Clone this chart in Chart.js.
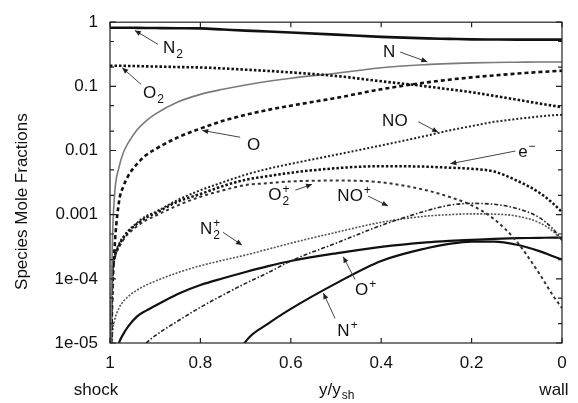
<!DOCTYPE html>
<html><head><meta charset="utf-8">
<script src="https://cdn.jsdelivr.net/npm/chart.js@4/dist/chart.umd.min.js"></script>
<style>html,body{margin:0;padding:0;background:#fff}</style>
</head><body>
<canvas id="c" width="578" height="403"></canvas>
<script>
// ---- data ----
const X = [1, 0.995, 0.99, 0.98, 0.97, 0.96, 0.94, 0.92, 0.9, 0.85, 0.8, 0.75, 0.7, 0.65, 0.6, 0.5, 0.4, 0.3, 0.25, 0.2, 0.15, 0.1, 0.05, 0.02, 0];
const N2  = [0.82, 0.82, 0.82, 0.82, 0.82, 0.82, 0.815, 0.812, 0.81, 0.805, 0.80, 0.77, 0.74, 0.715, 0.69, 0.64, 0.59, 0.56, 0.55, 0.54, 0.537, 0.535, 0.535, 0.535, 0.535];
const O2  = [0.21, 0.21, 0.21, 0.21, 0.209, 0.208, 0.207, 0.205, 0.204, 0.2, 0.197, 0.19, 0.182, 0.174, 0.165, 0.145, 0.12, 0.1, 0.09, 0.081, 0.071, 0.062, 0.054, 0.05, 0.047];
const N   = [1e-6, 3e-4, 0.002, 0.0055, 0.0095, 0.013, 0.021, 0.029, 0.037, 0.057, 0.075, 0.09, 0.105, 0.12, 0.134, 0.16, 0.195, 0.218, 0.226, 0.232, 0.236, 0.238, 0.24, 0.24, 0.24];
const O   = [1e-6, 5e-5, 3e-4, 0.0016, 0.0028, 0.004, 0.0062, 0.0085, 0.0105, 0.016, 0.022, 0.029, 0.036, 0.043, 0.05, 0.066, 0.09, 0.115, 0.127, 0.138, 0.148, 0.158, 0.167, 0.172, 0.175];
const NO  = [1e-6, 1e-4, 2.2e-4, 3.5e-4, 4.6e-4, 5.6e-4, 7.5e-4, 9.5e-4, 0.0011, 0.0017, 0.0024, 0.0032, 0.0042, 0.0052, 0.0062, 0.0086, 0.012, 0.017, 0.0205, 0.024, 0.028, 0.031, 0.034, 0.0355, 0.036];
const EM  = [1e-6, 1e-4, 2.1e-4, 3.3e-4, 4.4e-4, 5.4e-4, 7.2e-4, 9e-4, 0.00105, 0.0016, 0.0021, 0.0028, 0.0035, 0.004, 0.0045, 0.0053, 0.0057, 0.0056, 0.0054, 0.0052, 0.0047, 0.0034, 0.0022, 0.0015, 0.0011];
const O2P = [1e-6, 9e-5, 2e-4, 3.1e-4, 4.1e-4, 5e-4, 6.6e-4, 8.2e-4, 9.6e-4, 0.0014, 0.0019, 0.0024, 0.0029, 0.0031, 0.0033, 0.0034, 0.0032, 0.0024, 0.0019, 0.0014, 0.00085, 0.00038, 0.00012, 5.5e-5, 3.5e-5];
const N2P = [1e-6, 1.2e-5, 2.2e-5, 3.5e-5, 4.5e-5, 5.3e-5, 6.7e-5, 8e-5, 9.2e-5, 1.25e-4, 1.6e-4, 1.95e-4, 2.35e-4, 2.9e-4, 3.6e-4, 5.3e-4, 7.6e-4, 9.5e-4, 1.0e-3, 1.03e-3, 1.02e-3, 9.5e-4, 7.5e-4, 5.5e-4, 4e-4];
const NOP = [1e-8, 1e-7, 3e-7, 1e-6, 2e-6, 3e-6, 7e-6, 1e-5, 1.3e-5, 2.2e-5, 3.6e-5, 5.6e-5, 8.5e-5, 1.25e-4, 1.9e-4, 3.6e-4, 6.8e-4, 1.15e-3, 1.4e-3, 1.5e-3, 1.45e-3, 1.25e-3, 9e-4, 6e-4, 4e-4];
const OP  = [1e-8, 1e-6, 5e-6, 1e-5, 1.4e-5, 1.8e-5, 2.6e-5, 3.2e-5, 3.8e-5, 5.8e-5, 8e-5, 1.02e-4, 1.28e-4, 1.58e-4, 1.9e-4, 2.5e-4, 3.15e-4, 3.7e-4, 3.9e-4, 4.05e-4, 4.2e-4, 4.3e-4, 4.35e-4, 4.4e-4, 4.4e-4];
const NP  = [1e-9, 1e-9, 1e-9, 1e-9, 1e-9, 1e-9, 1e-9, 1e-9, 1e-9, 1e-8, 3e-7, 2e-6, 1.05e-5, 2e-5, 3.4e-5, 8.5e-5, 1.9e-4, 3e-4, 3.5e-4, 3.8e-4, 3.8e-4, 3.4e-4, 2.7e-4, 2.25e-4, 2e-4];

const X_TICKS = [1, 0.8, 0.6, 0.4, 0.2, 0];
const X_LABELS = ['1', '0.8', '0.6', '0.4', '0.2', '0'];
const Y_TICKS = [1e-5, 1e-4, 1e-3, 1e-2, 1e-1, 1];
const Y_LABELS = ['1e-05', '1e-04', '0.001', '0.01', '0.1', '1'];

// annotation labels: text parts, text anchor (data coords), arrow start and tip (data coords)
const LABELS = [
  {parts:[['N'],['', null, '2']], at:[0.883, 0.330], from:[0.894, 0.453], to:[0.945, 0.742]},
  {parts:[['O'],['', null, '2']], at:[0.927, 0.0656], from:[0.931, 0.107], to:[0.973, 0.195]},
  {parts:[['O']], at:[0.697, 0.0102], from:[0.712, 0.0161], to:[0.796, 0.0206]},
  {parts:[['N']], at:[0.396, 0.287], from:[0.358, 0.342], to:[0.298, 0.241]},
  {parts:[['NO']], at:[0.398, 0.0245], from:[0.318, 0.0282], to:[0.274, 0.0192]},
  {parts:[['e'],['', '\u2212', null]], at:[0.097, 0.00796], from:[0.103, 0.00982], to:[0.247, 0.00622]},
  {parts:[['O'],['', '+', '2']], at:[0.650, 0.00169], from:[0.590, 0.00241], to:[0.553, 0.00297]},
  {parts:[['NO'],['', '+', null]], at:[0.497, 0.00164], from:[0.429, 0.00195], to:[0.385, 0.00137]},
  {parts:[['N'],['', '+', '2']], at:[0.801, 4.95e-4], from:[0.750, 5.31e-4], to:[0.708, 3.36e-4]},
  {parts:[['O'],['', '+', null]], at:[0.458, 5.6e-5], from:[0.458, 9.8e-5], to:[0.484, 2.21e-4]},
  {parts:[['N'],['', '+', null]], at:[0.497, 1.28e-5], from:[0.502, 2.41e-5], to:[0.528, 6.0e-5]}
];

const FONT = '"Liberation Sans", Arial, Helvetica, sans-serif';
const pts = arr => X.map((x, i) => ({x: x, y: arr[i]}));

function ds(label, arr, color, width, dash) {
  return {label, data: pts(arr), borderColor: color, borderWidth: width, borderDash: dash || [],
    pointRadius: 0, fill: false, cubicInterpolationMode: 'monotone', borderCapStyle: 'butt'};
}

function richText(ctx, parts, x, y, size) {
  let cx = x;
  for (const p of parts) {
    const [main, sup, sub] = p;
    ctx.font = size + 'px ' + FONT;
    if (main) { ctx.fillText(main, cx, y); cx += ctx.measureText(main).width; }
    const small = Math.round(size * 0.7);
    ctx.font = small + 'px ' + FONT;
    let w = 0;
    if (sup) { ctx.fillText(sup, cx + 1, y - size * 0.42); w = Math.max(w, ctx.measureText(sup).width + 1); }
    if (sub) { ctx.fillText(sub, cx + 1, y + size * 0.28); w = Math.max(w, ctx.measureText(sub).width + 1); }
    cx += w;
  }
}

const decor = {
  id: 'decor',
  afterDatasetsDraw(chart) {
    const ctx = chart.ctx, a = chart.chartArea, xs = chart.scales.x, ys = chart.scales.y;
    ctx.save();
    ctx.strokeStyle = '#222'; ctx.lineWidth = 1.2; ctx.setLineDash([]);
    ctx.strokeRect(a.left, a.top, a.right - a.left, a.bottom - a.top);
    ctx.beginPath();
    X_TICKS.forEach(v => {
      const p = xs.getPixelForValue(v);
      ctx.moveTo(p, a.bottom); ctx.lineTo(p, a.bottom - 5);
      ctx.moveTo(p, a.top); ctx.lineTo(p, a.top + 5);
    });
    Y_TICKS.forEach(d => {
      [1, 2, 5].forEach(m => {
        const v = d * m; if (v > 1.0001) return;
        const p = ys.getPixelForValue(v), len = m === 1 ? 6 : 4;
        ctx.moveTo(a.left, p); ctx.lineTo(a.left + len, p);
        ctx.moveTo(a.right, p); ctx.lineTo(a.right - len, p);
      });
    });
    ctx.stroke();

    // annotations
    ctx.fillStyle = '#111'; ctx.textBaseline = 'alphabetic'; ctx.textAlign = 'left';
    LABELS.forEach(l => {
      const tx = xs.getPixelForValue(l.at[0]), ty = ys.getPixelForValue(l.at[1]);
      richText(ctx, l.parts, tx, ty, 17);
      const x1 = xs.getPixelForValue(l.from[0]), y1 = ys.getPixelForValue(l.from[1]);
      const x2 = xs.getPixelForValue(l.to[0]), y2 = ys.getPixelForValue(l.to[1]);
      ctx.strokeStyle = '#444'; ctx.lineWidth = 1;
      ctx.beginPath(); ctx.moveTo(x1, y1); ctx.lineTo(x2, y2); ctx.stroke();
      const ang = Math.atan2(y2 - y1, x2 - x1), L = 6, W = 2.6;
      ctx.fillStyle = '#222';
      ctx.beginPath();
      ctx.moveTo(x2, y2);
      ctx.lineTo(x2 - L * Math.cos(ang) + W * Math.sin(ang), y2 - L * Math.sin(ang) - W * Math.cos(ang));
      ctx.lineTo(x2 - L * Math.cos(ang) - W * Math.sin(ang), y2 - L * Math.sin(ang) + W * Math.cos(ang));
      ctx.closePath(); ctx.fill();
      ctx.fillStyle = '#111';
    });

    // axis titles
    ctx.fillStyle = '#111';
    ctx.font = '17px ' + FONT; ctx.textAlign = 'center';
    ctx.fillText('shock', xs.getPixelForValue(1) - 14, 395);
    ctx.fillText('wall', xs.getPixelForValue(0) - 8, 395);
    ctx.textAlign = 'left';
    const cx = (a.left + a.right) / 2 - 17;
    ctx.fillText('y/y', cx, 395);
    const w = ctx.measureText('y/y').width;
    ctx.font = '12px ' + FONT; ctx.fillText('sh', cx + w + 1, 399);
    ctx.font = '17px ' + FONT;
    ctx.translate(22, (a.top + a.bottom) / 2 + 19);
    ctx.rotate(-Math.PI / 2);
    ctx.textAlign = 'center'; ctx.textBaseline = 'middle';
    ctx.fillText('Species Mole Fractions', 0, 0);
    ctx.restore();
  }
};

new Chart(document.getElementById('c'), {
  type: 'line',
  data: {
    datasets: [
      ds('N2', N2, '#111', 2.6),
      ds('O2', O2, '#111', 2.6, [2.5, 2]),
      ds('N', N, '#7a7a7a', 1.6),
      ds('O', O, '#111', 2.6, [4, 3]),
      ds('NO', NO, '#222', 2, [2, 2]),
      ds('e-', EM, '#111', 2.5, [2.5, 2]),
      ds('O2+', O2P, '#333', 2, [3, 3]),
      ds('NO+', NOP, '#222', 1.6, [4, 2, 1.5, 2]),
      ds('N2+', N2P, '#555', 1.6, [2, 1.5]),
      ds('O+', OP, '#111', 2.2),
      ds('N+', NP, '#111', 2.2)
    ]
  },
  options: {
    responsive: false, animation: false,
    layout: {padding: {left: 10, right: 16, top: 15, bottom: 0}},
    plugins: {legend: {display: false}, tooltip: {enabled: false}},
    scales: {
      x: {
        type: 'linear', min: 0, max: 1, reverse: true,
        afterBuildTicks: s => { s.ticks = X_TICKS.map(v => ({value: v})); },
        afterFit: s => { s.height = 60; },
        grid: {display: false, drawTicks: false}, border: {display: false},
        ticks: {font: {family: FONT, size: 17}, color: '#111', padding: 10, maxRotation: 0, autoSkip: false,
          callback: v => X_LABELS[X_TICKS.indexOf(v)] ?? ''}
      },
      y: {
        type: 'logarithmic', min: 1e-5, max: 1,
        afterBuildTicks: s => { s.ticks = Y_TICKS.map(v => ({value: v})); },
        afterFit: s => { s.width = 100; },
        grid: {display: false, drawTicks: false}, border: {display: false},
        ticks: {font: {family: FONT, size: 17}, color: '#111', padding: 12, autoSkip: false,
          callback: v => Y_LABELS[Y_TICKS.findIndex(t => Math.abs(Math.log10(t) - Math.log10(v)) < 1e-6)] ?? ''}
      }
    }
  },
  plugins: [decor]
});
</script>
</body></html>
